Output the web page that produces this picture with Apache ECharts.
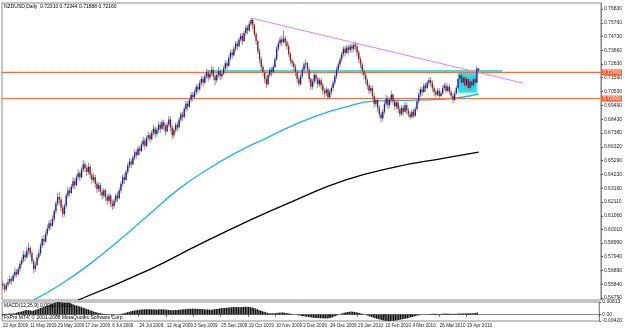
<!DOCTYPE html>
<html>
<head>
<meta charset="utf-8">
<script src="https://cdn.jsdelivr.net/npm/echarts@6/dist/echarts.min.js"></script>
<style>
  html, body { margin: 0; padding: 0; background: #fff; }
  #chart { width: 625px; height: 330px; }
</style>
</head>
<body>
<div id="chart"></div>
<script>
// daily bars, [open, close, low, high] in pips (x 1e-4)
const ohlcPips = [
  [5590,5570,5540,5610],[5570,5545,5520,5590],[5545,5580,5530,5600],[5580,5600,5560,5630],[5600,5625,5585,5650],
  [5625,5610,5580,5640],[5610,5650,5600,5670],[5650,5680,5630,5710],[5680,5660,5640,5700],[5660,5700,5650,5720],
  [5700,5740,5680,5760],[5740,5770,5720,5790],[5770,5810,5750,5840],[5810,5790,5760,5830],[5790,5840,5780,5870],
  [5840,5860,5810,5900],[5860,5820,5790,5880],[5820,5760,5740,5840],[5760,5700,5670,5780],[5700,5730,5680,5750],
  [5730,5790,5720,5810],[5790,5820,5770,5850],[5820,5880,5800,5900],[5880,5930,5860,5950],[5930,5910,5880,5960],
  [5910,5970,5900,5990],[5970,6010,5950,6040],[6010,6050,5990,6070],[6050,6030,6000,6080],[6030,6080,6020,6110],
  [6080,6140,6060,6160],[6140,6200,6120,6220],[6200,6250,6180,6280],[6250,6230,6190,6290],[6230,6170,6140,6250],
  [6170,6120,6090,6190],[6120,6180,6100,6200],[6180,6260,6160,6280],[6260,6300,6240,6330],[6300,6280,6250,6320],
  [6280,6330,6270,6350],[6330,6370,6310,6400],[6370,6340,6310,6390],[6340,6400,6330,6420],[6400,6430,6380,6460],
  [6430,6400,6370,6450],[6400,6460,6390,6480],[6460,6500,6440,6530],[6500,6470,6440,6520],[6470,6440,6410,6490],
  [6440,6480,6420,6510],[6480,6420,6390,6500],[6420,6380,6350,6440],[6380,6400,6360,6430],[6400,6350,6320,6420],
  [6350,6310,6280,6370],[6310,6340,6290,6360],[6340,6290,6260,6360],[6290,6260,6230,6310],[6260,6300,6240,6320],
  [6300,6250,6220,6310],[6250,6220,6190,6270],[6220,6260,6200,6280],[6260,6200,6170,6270],[6200,6180,6150,6230],
  [6180,6220,6160,6240],[6220,6260,6200,6280],[6260,6240,6210,6290],[6240,6300,6230,6320],[6300,6350,6280,6370],
  [6350,6400,6330,6420],[6400,6380,6350,6430],[6380,6440,6370,6460],[6440,6490,6420,6510],[6490,6520,6470,6550],
  [6520,6500,6470,6540],[6500,6550,6490,6570],[6550,6590,6530,6610],[6590,6570,6540,6610],[6570,6620,6560,6640],
  [6620,6600,6570,6640],[6600,6650,6590,6670],[6650,6680,6630,6710],[6680,6640,6610,6700],[6640,6700,6630,6720],
  [6700,6720,6680,6750],[6720,6690,6660,6740],[6690,6740,6680,6760],[6740,6770,6720,6800],[6770,6730,6700,6790],
  [6730,6760,6710,6780],[6760,6800,6740,6820],[6800,6770,6740,6820],[6770,6820,6760,6840],[6820,6790,6760,6840],
  [6790,6750,6720,6810],[6750,6800,6740,6820],[6800,6840,6780,6870],[6840,6780,6750,6860],[6780,6720,6690,6800],
  [6720,6760,6700,6780],[6760,6800,6740,6820],[6800,6780,6750,6820],[6780,6840,6770,6860],[6840,6880,6820,6900],
  [6880,6860,6830,6900],[6860,6920,6850,6940],[6920,6960,6900,6980],[6960,6940,6910,6980],[6940,6990,6930,7010],
  [6990,7030,6970,7050],[7030,7010,6980,7050],[7010,7050,7000,7070],[7050,7090,7030,7110],[7090,7070,7040,7110],
  [7070,7120,7060,7140],[7120,7150,7100,7170],[7150,7120,7090,7170],[7120,7170,7110,7190],[7170,7200,7150,7230],
  [7200,7160,7130,7220],[7160,7190,7140,7210],[7190,7220,7170,7250],[7220,7170,7140,7240],[7170,7140,7100,7190],
  [7140,7180,7120,7200],[7180,7210,7160,7240],[7210,7170,7140,7230],[7170,7190,7150,7210],[7190,7230,7180,7250],
  [7230,7270,7210,7290],[7270,7250,7220,7290],[7250,7310,7240,7330],[7310,7350,7290,7370],[7350,7330,7300,7370],
  [7330,7380,7320,7400],[7380,7420,7360,7440],[7420,7400,7370,7440],[7400,7450,7390,7470],[7450,7480,7430,7500],
  [7480,7440,7410,7500],[7440,7500,7430,7520],[7500,7540,7480,7560],[7540,7520,7490,7560],[7520,7570,7510,7590],
  [7570,7600,7550,7615],[7600,7560,7530,7610],[7560,7490,7470,7570],[7490,7440,7410,7510],[7440,7360,7340,7450],
  [7360,7300,7270,7380],[7300,7240,7210,7320],[7240,7200,7170,7260],[7200,7150,7120,7220],[7150,7110,7080,7170],
  [7110,7180,7100,7200],[7180,7220,7160,7240],[7220,7200,7170,7240],[7200,7240,7190,7260],[7240,7300,7230,7320],
  [7300,7380,7290,7400],[7380,7420,7360,7440],[7420,7450,7400,7470],[7450,7430,7400,7480],[7430,7460,7420,7520],
  [7460,7430,7400,7480],[7430,7400,7370,7450],[7400,7340,7320,7420],[7340,7290,7260,7360],[7290,7270,7240,7310],
  [7270,7240,7210,7290],[7240,7200,7170,7260],[7200,7150,7120,7220],[7150,7110,7090,7170],[7110,7170,7100,7190],
  [7170,7220,7150,7240],[7220,7260,7200,7280],[7260,7270,7230,7300],[7270,7220,7190,7280],[7220,7150,7120,7240],
  [7150,7090,7065,7160],[7090,7130,7070,7150],[7130,7180,7110,7200],[7180,7150,7120,7200],[7150,7110,7080,7170],
  [7110,7140,7090,7160],[7140,7100,7070,7160],[7100,7060,7030,7120],[7060,7040,7010,7080],[7040,7070,7020,7090],
  [7070,7010,6990,7080],[7010,7050,7000,7070],[7050,7080,7030,7100],[7080,7120,7060,7140],[7120,7170,7100,7190],
  [7170,7220,7150,7240],[7220,7260,7200,7280],[7260,7300,7240,7320],[7300,7340,7280,7360],[7340,7380,7320,7400],
  [7380,7350,7320,7400],[7350,7390,7340,7410],[7390,7370,7340,7410],[7370,7400,7350,7420],[7400,7380,7350,7420],
  [7380,7410,7360,7425],[7410,7400,7370,7430],[7400,7350,7320,7420],[7350,7300,7270,7370],[7300,7260,7230,7320],
  [7260,7210,7180,7280],[7210,7180,7150,7230],[7180,7140,7110,7200],[7140,7100,7070,7160],[7100,7060,7030,7120],
  [7060,7080,7040,7100],[7080,7020,6990,7100],[7020,6960,6930,7040],[6960,6990,6940,7010],[6990,6930,6900,7000],
  [6930,6880,6850,6950],[6880,6850,6815,6900],[6850,6900,6830,6920],[6900,6960,6880,6980],[6960,7000,6940,7030],
  [7000,6950,6920,7020],[6950,6990,6930,7010],[6990,7030,6970,7060],[7030,6980,6950,7040],[6980,6940,6910,7000],
  [6940,6970,6920,6990],[6970,6920,6890,6990],[6920,6880,6860,6940],[6880,6930,6870,6950],[6930,6900,6870,6950],
  [6900,6950,6890,6970],[6950,6910,6880,6970],[6910,6880,6860,6930],[6880,6860,6840,6900],[6860,6900,6850,6920],
  [6900,6870,6850,6920],[6870,6920,6860,6940],[6920,6980,6910,7000],[6980,7030,6960,7050],[7030,7070,7010,7090],
  [7070,7050,7020,7090],[7050,7100,7040,7120],[7100,7080,7050,7120],[7080,7120,7070,7140],[7120,7140,7100,7160],
  [7140,7120,7090,7165],[7120,7080,7050,7140],[7080,7050,7020,7100],[7050,7030,7010,7070],[7030,7060,7020,7080],
  [7060,7020,7000,7080],[7020,7040,7010,7060],[7040,7080,7030,7100],[7080,7100,7060,7120],[7100,7060,7040,7120],
  [7060,7090,7050,7110],[7090,7050,7030,7110],[7050,7020,7000,7070],[7020,6990,6965,7040],[6990,7040,6980,7060],
  [7040,7080,7030,7100],[7080,7150,7070,7170],[7150,7180,7130,7195],[7180,7120,7100,7190],[7120,7160,7100,7180],
  [7160,7100,7070,7170],[7100,7150,7090,7170],[7150,7080,7060,7160],[7080,7130,7060,7150],[7130,7100,7070,7150],
  [7100,7150,7080,7170],[7150,7120,7090,7170],[7120,7230,7110,7250],[7231,7216,7189,7234]
];

// MACD(12,26,9) histogram in units of 1e-4
const macdPips = [
  3,4,3,5,6,5,7,9,
  12,15,18,20,24,28,30,28,26,24,26,30,34,38,42,46,50,54,58,62,
  66,70,74,78,80,81,80,78,76,77,78,75,
  70,66,62,58,55,52,48,44,40,36,32,
  28,24,20,16,13,10,8,6,4,3,2,1,
  0,-1,-1,0,1,2,4,6,9,12,15,
  18,21,24,26,28,30,31,32,32,33,34,34,35,34,33,32,32,33,34,34,33,32,31,
  30,29,28,28,29,30,31,32,33,34,35,36,37,37,38,38,38,37,
  36,36,35,34,33,32,31,31,32,34,36,38,40,41,42,43,44,45,46,47,48,49,49,48,48,49,50,51,
  51,50,48,45,42,38,34,30,26,
  22,18,14,11,9,8,8,9,10,11,12,13,13,12,10,
  8,6,4,2,0,-2,-4,-6,-8,-10,-12,-14,-16,-18,-20,-21,-22,-22,-23,-24,-24,-25,-25,-25,-24,-22,-18,-14,
  -10,-5,0,4,8,11,14,16,18,19,18,17,15,13,10,7,3,0,-4,-8,-12,
  -16,-20,-24,-27,-30,-33,-36,-38,-40,-41,-42,-42,-41,-40,
  -39,-37,-35,-33,-31,-29,-27,-24,-21,-18,-15,-12,-9,-6,-4,-2,-1,
  0,1,2,3,4,5,5,5,4,4,5,5,6,6,5,5,4,4,5,5,6,6,7,7,7,8,8,8,9,9,10,13
];

// moving averages, [bar index, price]
const blueMa = [[18,0.5464],[33,0.5577],[50,0.5730],[68,0.5920],[85,0.6111],[102,0.6302],[119,0.6455],
  [137,0.6592],[154,0.6699],[166,0.6775],[183,0.6867],[200,0.6935],[217,0.6981],[240,0.6989],
  [258,0.6996],[269,0.7012],[278,0.7035]];
const blackMa = [[44,0.5464],[85,0.5692],[114,0.5882],[142,0.6058],[171,0.6226],[200,0.6378],
  [229,0.6477],[258,0.6546],[278,0.6592]];

const yTicks = [0.5479,0.5584,0.5689,0.5794,0.5899,0.6001,0.6106,0.6211,0.6316,0.6423,0.6529,
  0.6632,0.6738,0.6843,0.6949,0.7053,0.7159,0.7263,0.7366,0.7473,0.7576,0.7683];
const macdTicks = [0.00813, 0, -0.0042];

const upperLevel = 0.7193;
const lowerLevel = 0.6989;
const lastClose = 0.7216;
const zoneLevel = 0.7206;
const trendStart = [145, 0.7614];
const trendEnd = [304, 0.7118];
const boxFrom = [266, 0.7195];
const boxTo = [277, 0.7045];

const TOTAL_SLOTS = 350;
const MONTHS = ["Jan","Feb","Mar","Apr","May","Jun","Jul","Aug","Sep","Oct","Nov","Dec"];

// broker calendar: weekdays, sunday bars until early Aug 2009, no bars on 25 Dec / 1 Jan
function buildDates() {
  const out = [];
  const d = new Date(Date.UTC(2009, 3, 22));
  while (out.length < TOTAL_SLOTS) {
    const wd = d.getUTCDay();
    const iso = d.toISOString().slice(0, 10);
    const sundayBar = wd === 0 && iso <= "2009-08-09";
    const holiday = iso === "2009-12-25" || iso === "2010-01-01";
    if ((wd >= 1 && wd <= 5 && !holiday) || sundayBar)
      out.push(d.getUTCDate() + " " + MONTHS[d.getUTCMonth()] + " " + d.getUTCFullYear());
    d.setUTCDate(d.getUTCDate() + 1);
  }
  return out;
}
const dates = buildDates();
const nBars = ohlcPips.length;

const candleData = ohlcPips.map((b, i) => [i, b[0] / 1e4, b[1] / 1e4, b[2] / 1e4, b[3] / 1e4]);
const macdData = macdPips.map(v => v / 1e4);

const FONT = "Liberation Sans";
const FS = 5;

function renderCandle(params, api) {
  const i = api.value(0);
  const o = api.value(1), c = api.value(2), l = api.value(3), h = api.value(4);
  const pO = api.coord([i, o]), pC = api.coord([i, c]);
  const pL = api.coord([i, l]), pH = api.coord([i, h]);
  const w = 1.3;
  const up = c >= o;
  return {
    type: "group",
    children: [
      { type: "line", shape: { x1: pL[0], y1: pL[1], x2: pH[0], y2: pH[1] },
        style: { stroke: "#8f8f8f", lineWidth: 1 } },
      { type: "rect", shape: { x: pO[0] - w / 2, y: Math.min(pO[1], pC[1]), width: w,
          height: Math.max(1, Math.abs(pO[1] - pC[1])) },
        style: { fill: up ? "#1c1c96" : "#8a1d1d" } }
    ]
  };
}

function axisTag(bg) {
  return {
    show: true, position: "end", distance: 1, color: "#fff", backgroundColor: bg,
    fontSize: FS, fontFamily: FONT, padding: [1, 1, 0, 1],
    formatter: p => p.value.toFixed(5)
  };
}

const myChart = echarts.init(document.getElementById("chart"), null, { renderer: "canvas" });
const chartOption = {
  animation: false,
  backgroundColor: "#fff",
  textStyle: { fontFamily: FONT },
  grid: [
    { left: 2, right: 16, top: 3, height: 297, show: true, borderColor: "#8a8a8a", borderWidth: 1, backgroundColor: "#fff" },
    { left: 2, right: 16, top: 302, height: 19, show: true, borderColor: "#8a8a8a", borderWidth: 1, backgroundColor: "#fff" }
  ],
  xAxis: [
    { type: "category", gridIndex: 0, data: dates, boundaryGap: true,
      axisLine: { show: false }, axisTick: { show: false }, axisLabel: { show: false }, splitLine: { show: false } },
    { type: "category", gridIndex: 1, data: dates, boundaryGap: true,
      axisLine: { lineStyle: { color: "#8a8a8a" } },
      axisTick: { show: true, length: 2, interval: (idx) => idx % 16 === 0 && idx < nBars, lineStyle: { color: "#555" } },
      axisLabel: { show: true, interval: 15, align: "left", margin: 2, fontSize: 4.6, color: "#222", fontFamily: FONT,
        formatter: (v, idx) => idx < nBars ? v : "" },
      splitLine: { show: false } }
  ],
  yAxis: [
    { type: "value", gridIndex: 0, position: "right", min: 0.5464, max: 0.7729, scale: true,
      axisLine: { show: true, lineStyle: { color: "#8a8a8a" } },
      axisTick: { show: true, length: 2, customValues: yTicks, lineStyle: { color: "#555" } },
      axisLabel: { show: true, customValues: yTicks, margin: 3, fontSize: FS, color: "#222", fontFamily: FONT,
        formatter: v => v.toFixed(5) },
      splitLine: { show: false } },
    { type: "value", gridIndex: 1, position: "right", min: -0.0042, max: 0.00813,
      axisLine: { show: true, lineStyle: { color: "#8a8a8a" } },
      axisTick: { show: true, length: 2, customValues: macdTicks, lineStyle: { color: "#555" } },
      axisLabel: { show: true, customValues: macdTicks, margin: 3, fontSize: FS, color: "#222", fontFamily: FONT,
        formatter: v => v === 0 ? "0.00" : v.toFixed(5) },
      splitLine: { show: false } }
  ],
  series: [
    {
      // consolidation box and horizontal levels
      name: "levels", type: "line", xAxisIndex: 0, yAxisIndex: 0, data: [], z: 1, silent: true,
      markArea: {
        silent: true,
        itemStyle: { color: "#22e4ee", opacity: 1 },
        data: [[{ coord: boxFrom }, { coord: boxTo }]]
      },
      markLine: {
        silent: true, symbol: "none", animation: false,
        data: [
          [{ coord: [0, zoneLevel], lineStyle: { color: "#f2c4b4", width: 1, type: "dotted" }, label: { show: false } },
           { coord: [119, zoneLevel] }],
          [{ coord: [119, zoneLevel], lineStyle: { color: "#3fdcdc", width: 3, type: "solid" }, label: { show: false } },
           { coord: [292, zoneLevel] }],
          [{ coord: [292, zoneLevel], lineStyle: { color: "#c9c9c9", width: 1, type: "dotted" }, label: { show: false } },
           { coord: [TOTAL_SLOTS - 1, zoneLevel] }],
          { yAxis: upperLevel, lineStyle: { color: "#ff6a3c", width: 1, type: "solid" }, label: axisTag("#ff5a28") },
          { yAxis: lowerLevel, lineStyle: { color: "#ff6a3c", width: 1, type: "solid" }, label: axisTag("#ff5a28") },
          { yAxis: lastClose, lineStyle: { opacity: 0 }, label: axisTag("#000") },
          [{ coord: trendStart, lineStyle: { color: "#f07cf0", width: 1, type: "solid" }, label: { show: false } },
           { coord: trendEnd }]
        ]
      }
    },
    {
      name: "MA blue", type: "line", xAxisIndex: 0, yAxisIndex: 0, data: blueMa, smooth: true,
      showSymbol: false, z: 3, lineStyle: { color: "#1fb2f0", width: 1.3 }
    },
    {
      name: "MA black", type: "line", xAxisIndex: 0, yAxisIndex: 0, data: blackMa, smooth: true,
      showSymbol: false, z: 3, lineStyle: { color: "#000", width: 1.3 }
    },
    {
      name: "NZDUSD", type: "custom", xAxisIndex: 0, yAxisIndex: 0, data: candleData,
      renderItem: renderCandle, encode: { x: 0, y: [1, 2, 3, 4] }, z: 5
    },
    {
      name: "MACD", type: "bar", xAxisIndex: 1, yAxisIndex: 1, data: macdData,
      barWidth: 1.4, itemStyle: { color: "#111" }, z: 3
    }
  ],
  graphic: [
    { type: "text", left: 4, top: 4, z: 10,
      style: { text: "NZDUSD,Daily  0.72310 0.72344 0.71888 0.72160", fontSize: FS, fontFamily: FONT, fill: "#000" } },
    { type: "text", left: 4, top: 303, z: 10,
      style: { text: "MACD(12,26,9) 0.0013 0.0011", fontSize: FS, fontFamily: FONT, fill: "#000" } },
    { type: "text", left: 4, top: 315, z: 10,
      style: { text: "FxPro MT4, \u00a9 2001-2008 MetaQuotes Software Corp.", fontSize: FS, fontFamily: FONT, fill: "#000" } }
  ]
};
myChart.setOption(chartOption);
</script>
</body>
</html>
